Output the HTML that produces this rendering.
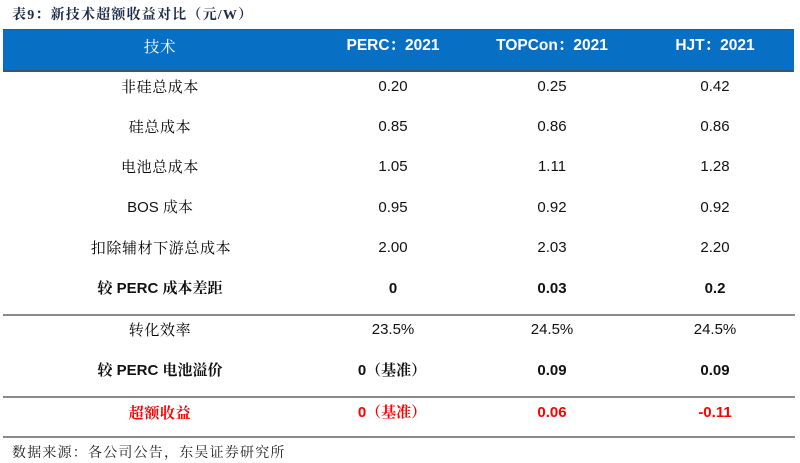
<!DOCTYPE html>
<html><head><meta charset="utf-8">
<style>
*{margin:0;padding:0;box-sizing:border-box}
body{width:800px;height:463px;background:#fff;position:relative;overflow:hidden;font-family:"Liberation Sans","Noto Serif CJK SC",serif;}
.t{position:absolute;white-space:nowrap;transform:translate(-50%,-50%);font-size:15px;color:#111;line-height:20px}
.cn{font-family:"Noto Serif CJK SC","Liberation Serif",serif;letter-spacing:0.6px;color:#000}
.mix{font-family:"Liberation Sans","Noto Serif CJK SC",serif}
.b{font-weight:bold}
.r{color:#ff0000}
.w{color:#fff}
.h{font-size:15.5px}
.hl{position:absolute;left:3px;width:792px;height:2px;background:#8a8a8a}
</style></head><body>
<div style="position:absolute;left:12px;top:6px;font-family:'Liberation Serif','Noto Serif CJK SC',serif;font-weight:bold;font-size:14px;color:#1c2b45;line-height:20px;letter-spacing:1.2px;white-space:nowrap">表9：新技术超额收益对比（元/W）</div>
<div style="position:absolute;left:3px;top:29px;width:791px;height:43px;background:#0870c4;border-top:1px solid #2d5a85;border-bottom:2px solid #3d5670"></div>
<div class="t cn w h" style="left:160px;top:46px;color:#fff">技术</div>
<div class="t mix w b h" style="left:393px;top:46px">PERC：2021</div>
<div class="t mix w b h" style="left:552px;top:46px">TOPCon：2021</div>
<div class="t mix w b h" style="left:715px;top:46px">HJT：2021</div>

<div class="t cn" style="left:160px;top:87px">非硅总成本</div>
<div class="t" style="left:393px;top:87px">0.20</div>
<div class="t" style="left:552px;top:87px">0.25</div>
<div class="t" style="left:715px;top:87px">0.42</div>

<div class="t cn" style="left:160px;top:127px">硅总成本</div>
<div class="t" style="left:393px;top:127px">0.85</div>
<div class="t" style="left:552px;top:127px">0.86</div>
<div class="t" style="left:715px;top:127px">0.86</div>

<div class="t cn" style="left:160px;top:167px">电池总成本</div>
<div class="t" style="left:393px;top:167px">1.05</div>
<div class="t" style="left:552px;top:167px">1.11</div>
<div class="t" style="left:715px;top:167px">1.28</div>

<div class="t mix" style="left:160px;top:208px">BOS 成本</div>
<div class="t" style="left:393px;top:208px">0.95</div>
<div class="t" style="left:552px;top:208px">0.92</div>
<div class="t" style="left:715px;top:208px">0.92</div>

<div class="t cn" style="left:161px;top:248px">扣除辅材下游总成本</div>
<div class="t" style="left:393px;top:248px">2.00</div>
<div class="t" style="left:552px;top:248px">2.03</div>
<div class="t" style="left:715px;top:248px">2.20</div>

<div class="t mix b" style="left:160px;top:289px">较 PERC 成本差距</div>
<div class="t b" style="left:393px;top:289px">0</div>
<div class="t b" style="left:552px;top:289px">0.03</div>
<div class="t b" style="left:715px;top:289px">0.2</div>

<div class="hl" style="top:314px"></div>

<div class="t cn" style="left:160px;top:330px">转化效率</div>
<div class="t" style="left:393px;top:330px">23.5%</div>
<div class="t" style="left:552px;top:330px">24.5%</div>
<div class="t" style="left:715px;top:330px">24.5%</div>

<div class="t mix b" style="left:160px;top:371px">较 PERC 电池溢价</div>
<div class="t mix b" style="left:392px;top:371px">0（基准）</div>
<div class="t b" style="left:552px;top:371px">0.09</div>
<div class="t b" style="left:715px;top:371px">0.09</div>

<div class="hl" style="top:396px"></div>

<div class="t cn b r" style="left:160px;top:413px;color:#ff0000">超额收益</div>
<div class="t mix b r" style="left:392px;top:413px">0（基准）</div>
<div class="t b r" style="left:552px;top:413px">0.06</div>
<div class="t b r" style="left:715px;top:413px">-0.11</div>

<div class="hl" style="top:436px"></div>

<div style="position:absolute;left:12px;top:442px;font-family:'Noto Serif CJK SC','Liberation Serif',serif;font-size:14px;color:#222;line-height:20px;letter-spacing:1.2px;white-space:nowrap">数据来源：各公司公告，东吴证券研究所</div>
</body></html>
